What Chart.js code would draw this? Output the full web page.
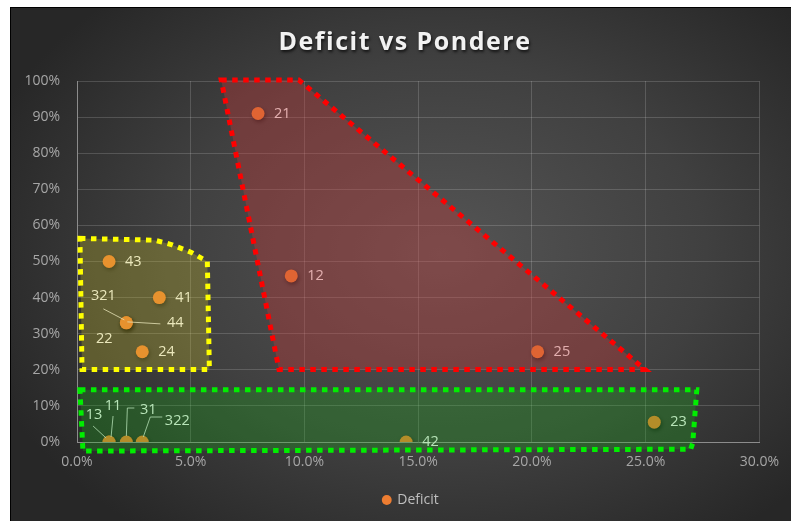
<!DOCTYPE html>
<html>
<head>
<meta charset="utf-8">
<title>Deficit vs Pondere</title>
<script src="https://cdn.jsdelivr.net/npm/chart.js@4.4.1/dist/chart.umd.min.js"></script>
<style>
    html, body { margin: 0; padding: 0; background: #fff; overflow: hidden; }
    .chart-box {
        position: absolute;
        left: 10px;
        top: 7px;
        width: 780px;
        height: 513px;
        border-left: 1px solid #000;
        border-top: 1px solid #000;
        background: radial-gradient(ellipse 62% 68% at 55% 48%, #555555 0%, #404040 55%, #272727 100%);
    }
    canvas { display: block; }
</style>
</head>
<body>
<div class="chart-box">
    <canvas id="deficitChart" width="780" height="513"></canvas>
</div>
<script>
// ===== DATA =====
const chartTitle = 'Deficit vs Pondere';
const pointNames = ['21', '12', '25', '43', '41', '321', '44', '22', '24', '13', '11', '31', '322', '42', '23'];
const pondere    = [0.0796, 0.0942, 0.2025, 0.0141, 0.0362, 0.0217, 0.0217, 0.0217, 0.0287, 0.0141, 0.0141, 0.0217, 0.0287, 0.1447, 0.2538];
const deficit    = [0.91, 0.46, 0.25, 0.50, 0.40, 0.33, 0.33, 0.33, 0.25, 0, 0, 0, 0, 0, 0.055];

const xTicks = [0, 0.05, 0.10, 0.15, 0.20, 0.25, 0.30];
const yTicks = [0, 0.1, 0.2, 0.3, 0.4, 0.5, 0.6, 0.7, 0.8, 0.9, 1.0];

// highlighted zones, vertices as [pondere, deficit]
const redZone    = [[0.0634, 1.003], [0.0975, 1.003], [0.2497, 0.201], [0.0888, 0.201]];
const yellowZone = [[0.0013, 0.564], [0.0341, 0.559], [0.0415, 0.547], [0.0503, 0.525], [0.0573, 0.500], [0.0582, 0.201], [0.0022, 0.201]];
const greenZone  = [[0.0013, 0.145], [0.2725, 0.145], [0.2707, -0.003], [0.2698, -0.020], [0.0026, -0.025]];

// ===== STYLE =====
const FONT = "'Open Sans', 'Noto Sans', sans-serif";
const ORANGE = '#ED7D31';

const zoneStyles = [
    { pts: redZone,    fill: 'rgba(200, 55, 55, 0.36)',  stroke: '#ff0000' },
    { pts: yellowZone, fill: 'rgba(215, 205, 40, 0.27)', stroke: '#ffff00' },
    { pts: greenZone,  fill: 'rgba(20, 190, 20, 0.26)',  stroke: '#00ee00' }
];

// labels that sit away from their point, with leader lines (px offsets from the point)
const calloutLayout = {
    '321': { dx: -23, dy: -27, leader: [[-23, -14], [-2, -3]] },
    '44':  { dx: 49,  dy: 0,   leader: [[1, -1], [34, 1]] },
    '22':  { dx: -22, dy: 16 },
    '13':  { dx: -15, dy: -27, leader: [[-16, -16], [-3, -4]] },
    '11':  { dx: 4,   dy: -36, leader: [[4, -26], [2, -5]] },
    '31':  { dx: 22,  dy: -32, leader: [[8, -34], [1, -34], [0, -6]] },
    '322': { dx: 35,  dy: -21, leader: [[20, -25], [8, -25], [1, -5]] }
};

// ===== PLUGIN: title, point shadow, data labels, zones =====
const overlayPlugin = {
    id: 'overlay',
    afterLayout(chart) {
        // centre the legend on the whole chart, like the title
        chart.legend.left += 24;
        chart.legend.right += 24;
    },
    beforeDatasetsDraw(chart) {
        const ctx = chart.ctx;
        ctx.save();
        ctx.font = 'bold 25px ' + FONT;
        ctx.letterSpacing = '1.5px';
        ctx.textAlign = 'center';
        ctx.textBaseline = 'middle';
        ctx.fillStyle = '#f2f2f2';
        ctx.shadowColor = 'rgba(0, 0, 0, 0.7)';
        ctx.shadowBlur = 3;
        ctx.shadowOffsetX = 1;
        ctx.shadowOffsetY = 2;
        ctx.fillText(chartTitle, 394, 35);
        ctx.restore();
    },
    beforeDatasetDraw(chart) {
        const ctx = chart.ctx;
        ctx.save();
        ctx.shadowColor = 'rgba(0, 0, 0, 0.55)';
        ctx.shadowBlur = 4;
        ctx.shadowOffsetX = 1;
        ctx.shadowOffsetY = 2;
    },
    afterDatasetDraw(chart) {
        chart.ctx.restore();
    },
    afterDatasetsDraw(chart) {
        const ctx = chart.ctx;
        const xs = chart.scales.x;
        const ys = chart.scales.y;
        const meta = chart.getDatasetMeta(0);

        // data labels
        ctx.save();
        ctx.font = '14.5px ' + FONT;
        ctx.fillStyle = '#f2f2f2';
        ctx.textBaseline = 'middle';
        ctx.strokeStyle = 'rgba(225, 225, 225, 0.85)';
        ctx.lineWidth = 1;
        meta.data.forEach((pt, i) => {
            const name = pointNames[i];
            const c = calloutLayout[name];
            if (c) {
                if (c.leader) {
                    ctx.beginPath();
                    c.leader.forEach(([lx, ly], k) => {
                        k ? ctx.lineTo(pt.x + lx, pt.y + ly) : ctx.moveTo(pt.x + lx, pt.y + ly);
                    });
                    ctx.stroke();
                }
                ctx.textAlign = 'center';
                ctx.fillText(name, pt.x + c.dx, pt.y + c.dy);
            } else {
                ctx.textAlign = 'left';
                ctx.fillText(name, pt.x + 16, pt.y);
            }
        });
        ctx.restore();

        // dotted zones on top of the points
        zoneStyles.forEach(z => {
            ctx.save();
            ctx.beginPath();
            z.pts.forEach(([px, py], k) => {
                const X = xs.getPixelForValue(px);
                const Y = ys.getPixelForValue(py);
                k ? ctx.lineTo(X, Y) : ctx.moveTo(X, Y);
            });
            ctx.closePath();
            ctx.fillStyle = z.fill;
            ctx.fill();
            ctx.setLineDash([5.5, 5.5]);
            ctx.lineWidth = 5;
            ctx.lineJoin = 'miter';
            ctx.strokeStyle = z.stroke;
            ctx.stroke();
            ctx.restore();
        });
    }
};

// ===== CHART =====
new Chart(document.getElementById('deficitChart'), {
    type: 'scatter',
    data: {
        datasets: [{
            label: 'Deficit',
            data: pondere.map((x, i) => ({ x: x, y: deficit[i] })),
            backgroundColor: ORANGE,
            borderColor: ORANGE,
            borderWidth: 0,
            pointRadius: 6.5,
            pointHoverRadius: 6.5
        }]
    },
    options: {
        responsive: false,
        animation: false,
        events: [],
        layout: {
            padding: { left: 0, right: 28, top: 73, bottom: 4 }
        },
        plugins: {
            title: { display: false },
            legend: {
                position: 'bottom',
                labels: {
                    color: '#bfbfbf',
                    font: { family: FONT, size: 14 },
                    usePointStyle: true,
                    pointStyle: 'circle',
                    boxWidth: 7,
                    boxHeight: 7,
                    padding: 10
                }
            },
            tooltip: { enabled: false }
        },
        scales: {
            x: {
                type: 'linear',
                min: 0,
                max: 0.30,
                afterBuildTicks: axis => { axis.ticks = xTicks.map(v => ({ value: v })); },
                afterFit: axis => { axis.height = 41; },
                ticks: {
                    color: '#a6a6a6',
                    font: { family: FONT, size: 14 },
                    padding: 12,
                    callback: v => (v * 100).toFixed(1) + '%'
                },
                grid: { color: 'rgba(255, 255, 255, 0.16)', drawTicks: false },
                border: { color: '#8c8c8c', width: 1 }
            },
            y: {
                type: 'linear',
                min: 0,
                max: 1,
                afterBuildTicks: axis => { axis.ticks = yTicks.map(v => ({ value: v })); },
                afterFit: axis => { axis.width = 66; },
                ticks: {
                    color: '#a6a6a6',
                    font: { family: FONT, size: 14 },
                    padding: 17,
                    callback: v => Math.round(v * 100) + '%'
                },
                grid: { color: 'rgba(255, 255, 255, 0.16)', drawTicks: false },
                border: { color: '#8c8c8c', width: 1 }
            }
        }
    },
    plugins: [overlayPlugin]
});
</script>
</body>
</html>
